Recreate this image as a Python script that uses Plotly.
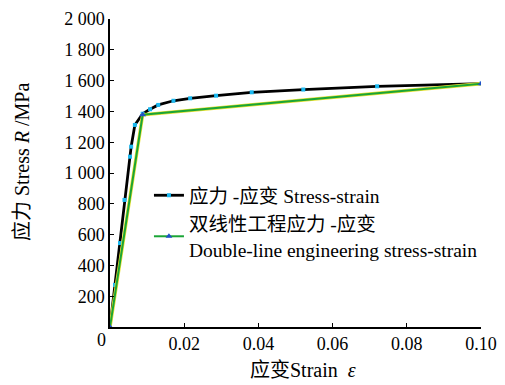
import plotly.graph_objects as go

# Stress-strain curve (strain, MPa)
strain = [0, 0.00135, 0.0027, 0.0039, 0.0054, 0.0057, 0.0067, 0.0088, 0.0108, 0.013,
          0.0171, 0.0216, 0.0286, 0.0382, 0.0521, 0.072, 0.1]
stress = [0, 273, 545, 825, 1106, 1171, 1312, 1385, 1414, 1442,
          1469, 1485, 1502, 1524, 1542, 1563, 1580]

# Double-line engineering stress-strain
bl_strain = [0, 0.0088, 0.1]
bl_stress = [0, 1378, 1580]

y_ticks = [200, 400, 600, 800, 1000, 1200, 1400, 1600, 1800, 2000]
y_labels = ["200", "400", "600", "800", "1 000", "1 200", "1 400", "1 600", "1 800", "2 000"]
x_ticks = [0.02, 0.04, 0.06, 0.08, 0.10]
x_labels = ["0.02", "0.04", "0.06", "0.08", "0.10"]

FONT = "Liberation Serif, Times New Roman, Noto Sans CJK SC, serif"

fig = go.Figure()
fig.add_trace(go.Scatter(
    x=strain, y=stress, mode="lines+markers",
    name="应力 -应变 Stress-strain",
    line=dict(color="black", width=2.8),
    marker=dict(symbol="square", size=4, color="#1ab8f0"),
))
fig.add_trace(go.Scatter(
    x=bl_strain, y=bl_stress, mode="lines", showlegend=False, hoverinfo="skip",
    line=dict(color="#e8e030", width=3.4),
))
fig.add_trace(go.Scatter(
    x=bl_strain, y=bl_stress, mode="lines+markers",
    name="双线性工程应力 -应变<br>Double-line engineering stress-strain",
    line=dict(color="#1aa536", width=2),
    marker=dict(symbol="triangle-up", size=6, color="#2050c8"),
))

# page body adds an 8px offset; figure size/margins compensate for it
fig.update_layout(
    width=497, height=377,
    margin=dict(l=102, r=24, t=11, b=58, autoexpand=False),
    paper_bgcolor="white", plot_bgcolor="white",
    font=dict(family=FONT, size=18, color="black"),
    legend=dict(x=0.105, y=0.49, xanchor="left", yanchor="top",
                bgcolor="rgba(0,0,0,0)", font=dict(size=19.5), tracegroupgap=0,
                itemwidth=30),
    xaxis=dict(range=[0, 0.1], tickvals=x_ticks, ticktext=x_labels, automargin=False,
               showgrid=False, zeroline=False, showline=True, linecolor="black",
               linewidth=1.5, ticks="inside", ticklen=4, tickcolor="black"),
    yaxis=dict(range=[0, 2000], tickvals=y_ticks, ticktext=y_labels, automargin=False,
               showgrid=False, zeroline=False, showline=True, linecolor="black",
               linewidth=1.5, ticks="inside", ticklen=4, tickcolor="black"),
    showlegend=True,
)
fig.add_annotation(x=0, y=0, xref="x", yref="y", text="0", showarrow=False,
                   xanchor="right", yanchor="top", xshift=-2, yshift=-1,
                   font=dict(size=18, family=FONT))
# axis titles
fig.add_annotation(x=(303 - 110) / 371, y=(327 - 370) / 308, xref="paper", yref="paper",
                   text="应变Strain  <i>ε</i>", showarrow=False,
                   xanchor="center", yanchor="middle", font=dict(size=20, family=FONT))
fig.add_annotation(x=(22 - 110) / 371, y=(327 - 162) / 308, xref="paper", yref="paper",
                   text="应力 Stress <i>R</i> /MPa", showarrow=False, textangle=-90,
                   xanchor="center", yanchor="middle", font=dict(size=20, family=FONT))

fig.write_html("out.html")
